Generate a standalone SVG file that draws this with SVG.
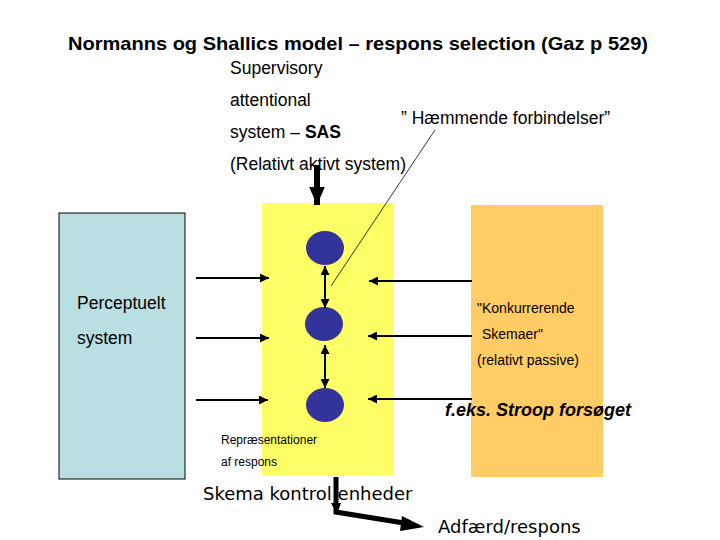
<svg xmlns="http://www.w3.org/2000/svg" width="720" height="540" viewBox="0 0 720 540">
<defs>
<style>
text{font-family:"Liberation Sans",Arial,sans-serif;fill:#000}
.t17{font-size:17.5px}
.t14{font-size:14px}
.t12{font-size:12px}
.dv{font-family:"DejaVu Sans",Verdana,sans-serif;font-size:18px}
.con{stroke:#000;stroke-width:2;fill:none}
.node{fill:#333399}
</style>
<marker id="ah" viewBox="0 0 10 10" refX="10" refY="5" markerWidth="4.5" markerHeight="4.5" orient="auto-start-reverse" markerUnits="strokeWidth">
<path d="M0,0 L10,5 L0,10 z" fill="#000"/>
</marker>
<marker id="ahb" viewBox="0 0 10 10" refX="10" refY="5" markerWidth="3" markerHeight="2.6" orient="auto" markerUnits="strokeWidth" preserveAspectRatio="none">
<path d="M0,0 L10,5 L0,10 z" fill="#000"/>
</marker>
</defs>
<rect width="720" height="540" fill="#fff"/>

<text x="68" y="50" textLength="580" lengthAdjust="spacingAndGlyphs" style="font-size:19px;font-weight:bold">Normanns og Shallics model – respons selection (Gaz p 529)</text>

<g id="sas">
<text class="t17" x="230" y="74">Supervisory</text>
<text class="t17" x="230" y="106">attentional</text>
<text class="t17" x="230" y="138">system – <tspan font-weight="bold">SAS</tspan></text>
<text class="t17" x="230" y="170">(Relativt aktivt system)</text>
</g>

<text id="haemmende" class="t17" x="401" y="124">” Hæmmende forbindelser”</text>

<g id="perceptuelt">
<rect x="59" y="213" width="126" height="266" fill="#B9DFE3" stroke="#000" stroke-width="1"/>
<text class="t17" x="77" y="309">Perceptuelt</text>
<text class="t17" x="77" y="344">system</text>
</g>

<g id="skema">
<rect x="262" y="203" width="132" height="273" fill="#FFFF66"/>
</g>

<g id="konkurrerende">
<rect x="471" y="205" width="132" height="272" fill="#FFCC66"/>
<text class="t14" x="477" y="313">"Konkurrerende</text>
<text class="t14" x="482" y="339">Skemaer"</text>
<text class="t14" x="477" y="365">(relativt passive)</text>
</g>

<g id="node1"><ellipse class="node" cx="325" cy="248" rx="19" ry="17"/></g>
<g id="node2"><ellipse class="node" cx="324" cy="324" rx="19" ry="17"/></g>
<g id="node3"><ellipse class="node" cx="325" cy="405" rx="19" ry="17"/></g>

<text id="stroop" x="445" y="416" style="font-size:18px;font-weight:bold;font-style:italic">f.eks. Stroop forsøget</text>

<g id="repr">
<text class="t12" x="221" y="444">Repræsentationer</text>
<text class="t12" x="221" y="466">af respons</text>
</g>

<text id="kontrol" class="dv" x="203" y="500">Skema kontrol enheder</text>
<text id="adfaerd" class="dv" x="438" y="533">Adfærd/respons</text>

<g id="connectors">
<line x1="317" y1="165" x2="317" y2="205" stroke="#000" stroke-width="6" marker-end="url(#ahb)"/>
<line x1="331" y1="286" x2="435" y2="130" stroke="#000" stroke-width="0.8"/>
<line class="con" x1="325" y1="266" x2="325" y2="308" marker-start="url(#ah)" marker-end="url(#ah)"/>
<line class="con" x1="325" y1="345" x2="325" y2="388" marker-start="url(#ah)" marker-end="url(#ah)"/>
<line class="con" x1="196" y1="278" x2="269" y2="278" marker-end="url(#ah)"/>
<line class="con" x1="196" y1="338" x2="269" y2="338" marker-end="url(#ah)"/>
<line class="con" x1="196" y1="400" x2="268" y2="400" marker-end="url(#ah)"/>
<line class="con" x1="472" y1="281" x2="369" y2="281" marker-end="url(#ah)"/>
<line class="con" x1="472" y1="336" x2="368" y2="336" marker-end="url(#ah)"/>
<line class="con" x1="472" y1="399" x2="368" y2="399" marker-end="url(#ah)"/>
<polyline points="336,477 336,512 404,523" stroke="#000" stroke-width="5" fill="none" stroke-linejoin="miter"/>
<path d="M331,503 L341,503 L337,514 z" fill="#000"/>
<path d="M402,516 L424,527 L400,531 z" fill="#000"/>
</g>
</svg>
